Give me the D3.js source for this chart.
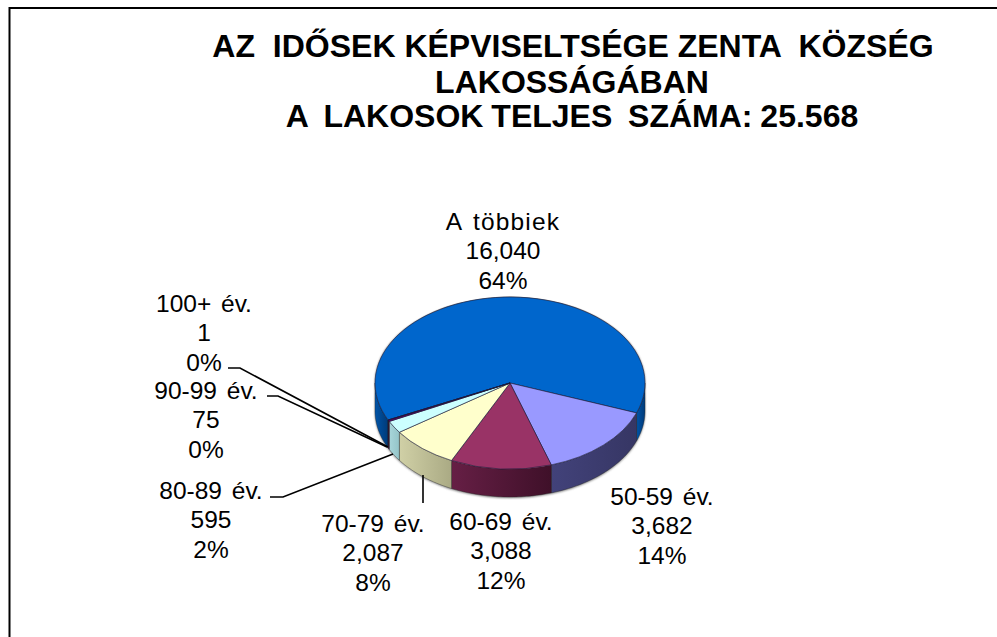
<!DOCTYPE html>
<html><head><meta charset="utf-8">
<script src="https://cdn.jsdelivr.net/npm/d3@7"></script>
<style>html,body{margin:0;padding:0;background:#fff;overflow:hidden}svg{display:block}text{font-family:"Liberation Sans",Arial,sans-serif;fill:#000}</style>
</head><body><script>
const categories=["A többiek","50-59 év.","60-69 év.","70-79 év.","80-89 év.","90-99 év.","100+ év."];
const values=[16040,3682,3088,2087,595,75,1];
const valueLabels=["16,040","3,682","3,088","2,087","595","75","1"];
const percentLabels=["64%","14%","12%","8%","2%","0%","0%"];
const topColors=["#0066CC","#9999FF","#993366","#FFFFCC","#CCFFFF","#660066","#FF8080"];
const sideColors=[["#0054a8","#003a78"],["#42427a","#363664"],["#661f45","#3f1029"],["#d0d0a6","#aaaa84"],["#a8d6da","#94c4c8"],["#440044","#330033"],["#aa5050","#883c3c"]];
const titleLines=["AZ  IDŐSEK KÉPVISELTSÉGE ZENTA  KÖZSÉG","LAKOSSÁGÁBAN","A  LAKOSOK TELJES  SZÁMA: 25.568"];
const titleAnchors=[[573,57],[572,93],[572,127]];
const labelAnchors=[[503,230],[662,505],[501,530],[373,532],[211,499],[206,399],[204,312]];
const leaderLines=[null,null,null,[[423,503],[423,475]],[[270,497],[283,497],[393,454]],[[267,396],[278,396],[387,447]],[[228,368],[240,368],[388,447]]];

const W=997,H=637,cx=510,cy=383,rx=135,ry=86,depth=28;
const svg=d3.select("body").append("svg").attr("width",W).attr("height",H);
const defs=svg.append("defs");
defs.append("filter").attr("id","soft").append("feGaussianBlur").attr("stdDeviation",1.2);

svg.append("path").attr("d",`M9.5 ${H} V8 H${W}`).attr("fill","none").attr("stroke","#000").attr("stroke-width",2);

titleLines.forEach((t,i)=>svg.append("text").attr("x",titleAnchors[i][0]).attr("y",titleAnchors[i][1]).attr("text-anchor","middle").attr("font-weight","bold").attr("font-size",32).style("white-space","pre").style("word-spacing",i==2?"-1px":"0").text(t));

const pie=d3.pie().sort(null).startAngle(244.5*Math.PI/180).endAngle((244.5+360)*Math.PI/180);
const arcs=pie(values);
const arc=d3.arc().innerRadius(0).outerRadius(rx);
const px=a=>cx+rx*Math.sin(a), py=a=>cy-ry*Math.cos(a);
function wall(a0,a1){
  const sc=d3.scaleLinear().domain([0,40]).range([a0,a1]);
  const pts=d3.range(41).map(i=>sc(i));
  const up=pts.map(a=>[px(a),py(a)]), dn=pts.slice().reverse().map(a=>[px(a),py(a)+depth]);
  return d3.line()(up.concat(dn))+"Z";
}
const visible=[];
arcs.forEach((d,i)=>{
  for(let k=-1;k<=1;k++){
    const s=d.startAngle+k*2*Math.PI,e=d.endAngle+k*2*Math.PI;
    const a0=Math.max(s,Math.PI/2),a1=Math.min(e,3*Math.PI/2);
    if(a1>a0) visible.push({i,a0,a1});
  }
});
svg.append("path").attr("d",wall(Math.PI/2,3*Math.PI/2)).attr("fill","#777").attr("filter","url(#soft)").attr("transform","translate(0,1)");
svg.append("path").attr("d",arc({startAngle:0,endAngle:2*Math.PI})).attr("fill","#777").attr("filter","url(#soft)").attr("transform",`translate(${cx},${cy-.5}) scale(1,${ry/rx})`);
visible.forEach((v,n)=>{
  const id="g"+n,g=defs.append("linearGradient").attr("id",id).attr("gradientUnits","userSpaceOnUse")
    .attr("x1",px(v.a1)).attr("x2",px(v.a0)).attr("y1",0).attr("y2",0);
  const c=sideColors[v.i];
  g.append("stop").attr("offset",0).attr("stop-color",c[0]);
  g.append("stop").attr("offset",1).attr("stop-color",c[1]);
  svg.append("path").attr("d",wall(v.a0,v.a1)).attr("fill",`url(#${id})`).attr("stroke","#222").attr("stroke-opacity",.45).attr("stroke-width",.8);
});
svg.append("g").attr("transform",`translate(${cx},${cy}) scale(1,${ry/rx})`)
 .selectAll("path").data(arcs).join("path").attr("d",arc).attr("fill",(d,i)=>topColors[i])
 .attr("stroke","#1a1a3a").attr("stroke-opacity",.6).attr("stroke-width",1).attr("vector-effect","non-scaling-stroke");

leaderLines.forEach(l=>{ if(l) svg.append("path").attr("d",d3.line()(l)).attr("fill","none").attr("stroke","#000").attr("stroke-width",1.6); });

const fs=24.5, lh=29.3;
categories.forEach((c,i)=>{
  const t=svg.append("text").attr("text-anchor","middle").attr("font-size",fs);
  [c,valueLabels[i],percentLabels[i]].forEach((s,j)=>{
    const sp=t.append("tspan").attr("x",labelAnchors[i][0]).attr("y",labelAnchors[i][1]+j*lh).text(s);
    if(j==0) sp.style("word-spacing","3px").style("letter-spacing",i==0?"1.2px":"0");
  });
});
</script></body></html>
